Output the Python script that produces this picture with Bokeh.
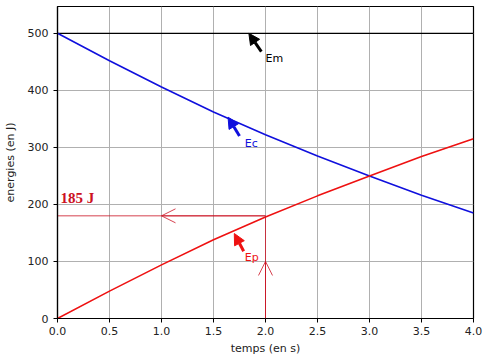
from bokeh.plotting import figure
from bokeh.models import Arrow, OpenHead, NormalHead, Label, Range1d, FixedTicker, CustomJSTickFormatter
from bokeh.embed import file_html
from bokeh.resources import INLINE

t = [0.0, 0.5, 1.0, 1.5, 2.0, 2.5, 3.0, 3.5, 4.0]
ep = [0, 48, 94, 138, 178, 215, 250, 284, 315]
em = [500] * len(t)
ec = [m - p for m, p in zip(em, ep)]
x_ticks = [0.0, 0.5, 1.0, 1.5, 2.0, 2.5, 3.0, 3.5, 4.0]
y_ticks = [0, 100, 200, 300, 400, 500]
t_read = 2.0
e_read = 180
label_read = "185 J"

p = figure(width=485, height=359, output_backend="svg", toolbar_location=None,
           x_range=Range1d(0, 4), y_range=Range1d(0, 547),
           min_border_left=54, min_border_right=12, min_border_top=6, min_border_bottom=41)
p.outline_line_color = "black"
p.outline_line_width = 1.2
p.background_fill_color = "white"
p.border_fill_color = "white"

for ax in (p.xaxis[0], p.yaxis[0]):
    ax.major_label_text_font = "DejaVu Sans"
    ax.major_label_text_font_size = "11px"
    ax.major_label_text_color = "#222222"
    ax.axis_label_text_font = "DejaVu Sans"
    ax.axis_label_text_font_size = "11px"
    ax.axis_label_text_font_style = "normal"
    ax.axis_label_text_color = "#222222"
    ax.minor_tick_line_color = None
    ax.major_tick_in = 0
    ax.major_tick_out = 4
    ax.axis_line_color = "black"
    ax.axis_line_width = 1.2

p.xaxis.major_label_standoff = 4
p.xaxis.axis_label_standoff = 4
p.yaxis.major_label_standoff = 5
p.yaxis.axis_label_standoff = 8

p.xaxis.ticker = FixedTicker(ticks=x_ticks)
p.yaxis.ticker = FixedTicker(ticks=y_ticks)
p.xaxis.formatter = CustomJSTickFormatter(code="return tick.toFixed(1);")
p.xaxis.axis_label = "temps (en s)"
p.yaxis.axis_label = "energies (en J)"
p.grid.grid_line_color = "#b0b0b0"
p.grid.grid_line_width = 1

p.line(t, em, line_color="black", line_width=1.3)
p.line(t, ec, line_color="#1010dd", line_width=1.6)
p.line(t, ep, line_color="#ee1111", line_width=1.6)

# reading lines
red2 = "#cc1122"
p.line([0, t_read], [e_read, e_read], line_color=red2, line_width=0.8)
p.line([t_read, t_read], [0, e_read], line_color=red2, line_width=0.8)
p.add_layout(Arrow(x_start=t_read, y_start=e_read, x_end=1.0, y_end=e_read,
                   line_color=red2, line_width=0.8,
                   end=OpenHead(size=14, line_color=red2, line_width=0.8)))
p.add_layout(Arrow(x_start=t_read, y_start=0, x_end=t_read, y_end=100,
                   line_color=red2, line_width=0.8,
                   end=OpenHead(size=14, line_color=red2, line_width=0.8)))
p.add_layout(Label(x=0.03, y=212, text=label_read, text_font="Liberation Serif",
                   text_font_style="bold", text_font_size="15px", text_color=red2,
                   text_baseline="middle"))

# annotations
ann = [("Em", "black", 1.84, 500, 1.96, 468, 2.0, 456),
       ("Ec", "#1010dd", 1.64, 353, 1.75, 320, 1.80, 307),
       ("Ep", "#ee1111", 1.70, 149, 1.79, 118, 1.80, 107)]
for name, col, xt, yt, xs, ys, lx, ly in ann:
    p.add_layout(Arrow(x_start=xs, y_start=ys, x_end=xt, y_end=yt,
                       line_color=col, line_width=3,
                       end=NormalHead(size=11, fill_color=col, line_color=col, line_width=1)))
    p.add_layout(Label(x=lx, y=ly, text=name, text_font="DejaVu Sans",
                       text_font_size="11px", text_color=col, text_baseline="middle"))

open("out.html", "w").write(file_html(p, INLINE))
